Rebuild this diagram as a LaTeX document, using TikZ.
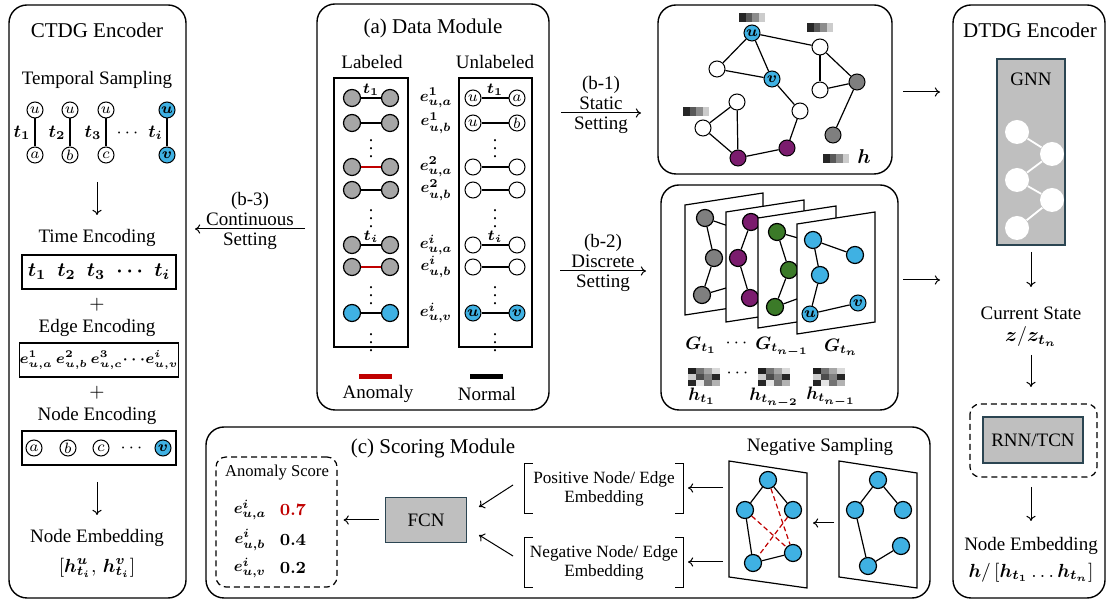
\RequirePackage{fix-cm}
\documentclass[tikz,border=0pt]{standalone}
\usepackage{fontspec}
\setmainfont{Liberation Serif}
\usepackage{amsmath}
\usepackage{bm}
\usepackage{tikz}
\usetikzlibrary{arrows.meta}
\usetikzlibrary{calc}
\usetikzlibrary{positioning}

\definecolor{nodeblue}{HTML}{3FB1E3}
\definecolor{nodegray}{HTML}{7F7F7F}
\definecolor{lgray}{HTML}{A6A6A6}
\definecolor{nodepurple}{HTML}{7B1C6E}
\definecolor{nodegreen}{HTML}{3B7A28}
\definecolor{anomred}{HTML}{C00000}
\definecolor{boxgray}{HTML}{BFBFBF}
\definecolor{boxedge}{HTML}{2B4552}

\tikzset{panel/.style={draw, line width=0.7pt, rounded corners=9pt}}
\tikzset{title/.style={font=\fontsize{10.5}{12}\selectfont}}
\tikzset{head/.style={font=\fontsize{9.5}{10}\selectfont, align=center}}
\tikzset{note/.style={font=\fontsize{8.3}{9.5}\selectfont, align=center}}
\tikzset{tlab/.style={font=\fontsize{9}{9}\selectfont, inner sep=1pt}}
\tikzset{elab/.style={font=\fontsize{8}{9}\selectfont, inner sep=0pt}}
\tikzset{arrow/.style={-{To[length=2.6pt,width=4.6pt]}, line width=0.5pt}}
\tikzset{link/.style={line width=0.6pt}}
\tikzset{vtx/.style={circle, draw, line width=0.5pt, fill=white, minimum size=8pt,
    inner sep=0pt, font=\fontsize{7.5}{7.5}\selectfont}}
\tikzset{ball/.style={circle, draw, line width=0.6pt, minimum size=8.5pt, inner sep=0pt}}
\tikzset{encbox/.style={draw, line width=0.6pt, minimum width=77pt, minimum height=17pt, inner sep=0pt}}
\tikzset{procbox/.style={draw=boxedge, fill=boxgray, line width=0.7pt}}

% feature vector: four shaded cells, top left corner at (#1,#2)
\newcommand{\featbar}[2]{%
  \foreach \g [count=\k from 0] in {85,65,45,20}{
    \fill[black!\g] (#1+\k*6.5,#2) rectangle ++(6.5,9);
  }}
% 4x3 embedding matrix
\newcommand{\heatmap}[2]{%
  \foreach \g [count=\k from 0] in {88,55,35,15,20,70,50,85,85,10,55,30}{
    \pgfmathtruncatemacro{\hcol}{mod(\k,4)}
    \pgfmathtruncatemacro{\hrow}{int(\k/4)}
    \fill[black!\g] (#1+\hcol*8,#2+\hrow*6) rectangle ++(8,6);
  }}
% one snapshot sheet, left edge at #1, top left corner at #2
\newcommand{\snapframe}[2]{%
  \draw[link, fill=white] (#1,#2) -- (#1+78,#2-12) -- (#1+78,#2+98) -- (#1,#2+110) -- cycle;}
\newcommand{\negframe}[1]{%
  \draw[link, fill=white] (#1,461) -- (#1+78,473) -- (#1+78,588) -- (#1,577) -- cycle;}

\begin{document}
\begin{tikzpicture}[x=0.5pt,y=-0.5pt]
\useasboundingbox (0,0) rectangle (1109,603);

%% CTDG encoder
\draw[panel] (9,5) rectangle (186,598);
\node[title] (ctdg) at (97,30) {CTDG Encoder};
\node[head] (tsamp) at (97,80) {Temporal Sampling};
\foreach \x/\w/\idx [count=\k] in {35/a/1,70/b/2,106/c/3}{
  \node[vtx] (su\k) at (\x,110) {$u$};
  \node[vtx] (sw\k) at (\x,155) {$\w$};
  \draw[link] (su\k) -- (sw\k) node[tlab,midway,left=1pt] {$\bm{t_{\idx}}$};
}
\node[vtx,fill=nodeblue] (su4) at (167,110) {$\bm{u}$};
\node[vtx,fill=nodeblue] (sw4) at (167,155) {$\bm{v}$};
\draw[link] (su4) -- (sw4) node[tlab,midway,left=1pt] {$\bm{t_i}$};
\node[tlab] (sdots) at (129,133) {$\cdots$};

\coordinate (ca1) at (97,182);
\coordinate (ca2) at (97,215);
\draw[arrow] (ca1) -- (ca2);

\node[head] (tenc) at (97,238) {Time Encoding};
\node[encbox, font=\fontsize{10}{10}\selectfont] (tbox) at (99,272)
  {$\bm{t_1\;\;t_2\;\;t_3\;\;\cdots\;\;t_i}$};
\node[head] (plus1) at (97,305) {$+$};
\node[head] (eenc) at (97,328) {Edge Encoding};
\node[encbox, font=\fontsize{7.3}{7.3}\selectfont] (ebox) at (99,360)
  {$\bm{e^{1}_{u,a}\,e^{2}_{u,b}\,e^{3}_{u,c}\cdots e^{i}_{u,v}}$};
\node[head] (plus2) at (97,393) {$+$};
\node[head] (nenc) at (97,416) {Node Encoding};
\node[encbox] (nbox) at (99,448) {};
\foreach \x/\w [count=\k] in {34/a,68/b,101/c}
  \node[vtx] (nw\k) at (\x,448) {$\w$};
\node[tlab] (ndots) at (133,448) {$\cdots$};
\node[vtx,fill=nodeblue] (nw4) at (163,448) {$\bm{v}$};

\coordinate (cb1) at (97,482);
\coordinate (cb2) at (97,515);
\draw[arrow] (cb1) -- (cb2);
\node[head] (cemb) at (97,538) {Node Embedding};
\node[head, font=\fontsize{9.5}{10}\selectfont] (cvec) at (97,568)
  {$[\bm{h^{u}_{t_i}},\,\bm{h^{v}_{t_i}}]$};

%% (b-3)
\coordinate (b3s) at (305,229);
\coordinate (b3e) at (195,229);
\draw[arrow] (b3s) -- (b3e)
  node[head,midway,above=0.5pt,inner sep=1pt] {(b-3)\\Continuous}
  node[head,midway,below=0.5pt,inner sep=1pt] {Setting};

%% data module
\draw[panel] (317,4) rectangle (549,410);
\node[title] (dmod) at (433,28) {(a) Data Module};
\node[head] (lab) at (372,62) {Labeled};
\node[head] (ulab) at (495,62) {Unlabeled};
\draw[link] (334,78) rectangle (408,347);
\draw[link] (459,78) rectangle (532,347);

\foreach \y/\c/\f [count=\k] in {98/black/lgray,123/black/lgray,167/anomred/lgray,190/black/lgray,
    245/black/lgray,267/anomred/lgray,313/black/nodeblue}{
  \node[ball, fill=\f] (la\k) at (352,\y) {};
  \node[ball, fill=\f] (lb\k) at (390,\y) {};
  \draw[link, draw=\c] (la\k) -- (lb\k);
}
\path (la1) -- (lb1) node[elab,midway,above=0.8pt,font=\fontsize{7.5}{7.5}\selectfont] (lt1) {$\bm{t_1}$};
\path (la5) -- (lb5) node[elab,midway,above=0.8pt,font=\fontsize{7.5}{7.5}\selectfont] (lt5) {$\bm{t_i}$};

\foreach \y/\s/\w [count=\k] in {98/1/a,123/1/b,167/2/a,190/2/b,245/i/a,267/i/b,313/i/v}
  \node[elab] (el\k) at (436,\y) {$\bm{e^{\s}_{u,\w}}$};

\node[vtx] (ua1) at (473,98) {$u$};
\node[vtx] (ub1) at (517,98) {$a$};
\node[vtx] (ua2) at (473,123) {$u$};
\node[vtx] (ub2) at (517,123) {$b$};
\foreach \y [count=\k from 3] in {167,190,245,267}{
  \node[vtx] (ua\k) at (473,\y) {};
  \node[vtx] (ub\k) at (517,\y) {};
}
\node[vtx,fill=nodeblue] (ua7) at (473,313) {$\bm{u}$};
\node[vtx,fill=nodeblue] (ub7) at (517,313) {$\bm{v}$};
\foreach \k in {1,...,7}
  \draw[link] (ua\k) -- (ub\k);
\path (ua1) -- (ub1) node[elab,midway,above=0.8pt,font=\fontsize{7.5}{7.5}\selectfont] (ut1) {$\bm{t_1}$};
\path (ua5) -- (ub5) node[elab,midway,above=0.8pt,font=\fontsize{7.5}{7.5}\selectfont] (ut5) {$\bm{t_i}$};

\foreach \y [count=\k] in {143,213,290,337}{
  \node[tlab] (ldots\k) at (371,\y) {$\vdots$};
  \node[tlab] (udots\k) at (495,\y) {$\vdots$};
}

\node[fill=anomred, minimum width=16.5pt, minimum height=2.5pt, inner sep=0pt] (redbar) at (375,377) {};
\node[fill=black, minimum width=16.5pt, minimum height=2.5pt, inner sep=0pt] (blackbar) at (486,377) {};
\node[head] (anom) at (378,394) {Anomaly};
\node[head] (norm) at (487,394) {Normal};

%% (b-1) and (b-2)
\coordinate (b1s) at (561,113);
\coordinate (b1e) at (641,113);
\draw[arrow] (b1s) -- (b1e)
  node[head,midway,above=0.5pt,inner sep=1pt] {(b-1)\\Static}
  node[head,midway,below=0.5pt,inner sep=1pt] {Setting};
\coordinate (b2s) at (560,271);
\coordinate (b2e) at (646,271);
\draw[arrow] (b2s) -- (b2e)
  node[head,midway,above=0.5pt,inner sep=1pt] {(b-2)\\Discrete}
  node[head,midway,below=0.5pt,inner sep=1pt] {Setting};

%% static graph
\draw[panel] (658,5) rectangle (892,174);
\featbar{739}{13}
\featbar{807}{23}
\featbar{683}{107}
\featbar{823}{154}
\node[vtx,fill=nodeblue] (gu) at (752,33) {$\bm{u}$};
\node[vtx,fill=nodeblue] (gv) at (772,79) {$\bm{v}$};
\node[vtx] (ga) at (717,69) {};
\node[vtx] (gb) at (820,47) {};
\node[vtx] (gc) at (820,90) {};
\node[vtx,fill=nodegray] (gd) at (857,82) {};
\node[vtx,fill=nodegray] (ge) at (833,135) {};
\node[vtx] (gf) at (800,111) {};
\node[vtx,fill=nodepurple] (gg) at (787,148) {};
\node[vtx,fill=nodepurple] (gh) at (738,158) {};
\node[vtx] (gi) at (737,102) {};
\node[vtx] (gj) at (703,128) {};
\foreach \a/\b in {gu/ga,gu/gv,ga/gv,gu/gb,gb/gc,gb/gd,gc/gd,gd/ge,gv/gf,gf/gg,gg/gh,gh/gi,gh/gj,gi/gj}
  \draw[link] (\a) -- (\b);
\node[tlab, font=\fontsize{10}{10}\selectfont] (hstat) at (864,157) {$\bm{h}$};

\coordinate (d1s) at (903,92);
\coordinate (d1e) at (940,92);
\draw[arrow] (d1s) -- (d1e);

%% discrete snapshots
\draw[panel] (661,185) rectangle (898,410);
\snapframe{685}{205}
\node[ball,fill=nodegray] (k1) at (705,218) {};
\node[ball,fill=nodegray] (k2) at (714,258) {};
\node[ball,fill=nodegray] (k3) at (702,295) {};
\coordinate (k1x) at (740,230);
\coordinate (k3x) at (740,284);
\foreach \a/\b in {k1/k2,k2/k3,k1/k1x,k3/k3x}
  \draw[link] (\a) -- (\b);
\snapframe{726}{212}
\node[ball,fill=nodepurple] (p1) at (751,222) {};
\node[ball,fill=nodepurple] (p2) at (738,258) {};
\node[ball,fill=nodepurple] (p3) at (750,298) {};
\coordinate (p1x) at (770,232);
\foreach \a/\b in {p1/p2,p2/p3,p1/p1x}
  \draw[link] (\a) -- (\b);
\snapframe{758}{218}
\node[ball,fill=nodegreen] (r1) at (777,232) {};
\node[ball,fill=nodegreen] (r2) at (789,270) {};
\node[ball,fill=nodegreen] (r3) at (775,307) {};
\coordinate (r1x) at (805,240);
\coordinate (r3x) at (805,296);
\foreach \a/\b in {r1/r2,r2/r3,r1/r1x,r3/r3x}
  \draw[link] (\a) -- (\b);
\snapframe{797}{224}
\node[ball,fill=nodeblue] (n1) at (813,240) {};
\node[ball,fill=nodeblue] (n2) at (855,255) {};
\node[ball,fill=nodeblue] (n3) at (820,275) {};
\node[vtx,fill=nodeblue] (nu) at (810,314) {$\bm{u}$};
\node[vtx,fill=nodeblue] (nv) at (858,303) {$\bm{v}$};
\foreach \a/\b in {n1/n2,n1/n3,n3/nu,nu/nv}
  \draw[link] (\a) -- (\b);

\node[tlab] (gt1) at (701,345) {$\bm{G_{t_1}}$};
\node[tlab] (gdots) at (738,343) {$\cdots$};
\node[tlab] (gtn1) at (782,347) {$\bm{G_{t_{n-1}}}$};
\node[tlab] (gtn) at (841,347) {$\bm{G_{t_n}}$};
\heatmap{688}{368}
\heatmap{758}{368}
\heatmap{813}{368}
\node[tlab] (hdots) at (739,373) {$\cdots$};
\node[tlab] (ht1) at (702,396) {$\bm{h_{t_1}}$};
\node[tlab] (htn2) at (774,398) {$\bm{h_{t_{n-2}}}$};
\node[tlab] (htn1) at (831,397) {$\bm{h_{t_{n-1}}}$};

\coordinate (d2s) at (903,280);
\coordinate (d2e) at (940,280);
\draw[arrow] (d2s) -- (d2e);

%% DTDG encoder
\draw[panel] (953,5) rectangle (1105,598);
\node[title] (dtdg) at (1030,30) {DTDG Encoder};
\node[procbox, minimum width=34pt, minimum height=93pt] (gnn) at (1031,152) {};
\node[head, below=4pt of gnn.north] (gnnlab) {GNN};
\foreach \x/\y [count=\k] in {1017/132,1052/154,1017/180,1052/200,1017/228}
  \node[circle, fill=white, minimum size=12pt, inner sep=0pt] (gn\k) at (\x,\y) {};
\foreach \k [evaluate=\k as \j using int(\k+1)] in {1,...,4}
  \draw[white, line width=0.9pt] (gn\k) -- (gn\j);

\coordinate (e1s) at (1031,252);
\coordinate (e1e) at (1031,287);
\draw[arrow] (e1s) -- (e1e);
\node[head] (cstate) at (1031,313) {Current State};
\node[tlab, font=\fontsize{10}{10}\selectfont] (zlab) at (1031,337) {$\bm{z}/\bm{z_{t_n}}$};
\coordinate (e2s) at (1031,355);
\coordinate (e2e) at (1031,387);
\draw[arrow] (e2s) -- (e2e);
\draw[link, dash pattern=on 3pt off 2pt, rounded corners=5pt] (970,404) rectangle (1097,477);
\node[procbox, minimum width=50pt, minimum height=23pt, font=\fontsize{9.5}{10}\selectfont] (rnn) at (1033,440) {RNN/TCN};
\coordinate (e3s) at (1031,487);
\coordinate (e3e) at (1031,521);
\draw[arrow] (e3s) -- (e3e);
\node[head] (demb) at (1031,546) {Node Embedding};
\node[tlab, font=\fontsize{9.5}{10}\selectfont] (dvec) at (1031,573)
  {$\bm{h}/\,[\bm{h_{t_1}}\ldots\bm{h_{t_n}}]$};

%% scoring module
\draw[panel] (206,427) rectangle (930,598);
\node[title] (smod) at (433,448) {(c) Scoring Module};
\node[draw, line width=0.6pt, dash pattern=on 3pt off 2pt, rounded corners=5pt,
  minimum width=60.5pt, minimum height=65pt] (scorebox) at (276.5,522) {};
\node[note] (ascore) at (277,473) {Anomaly Score};
\foreach \y/\w/\v/\c [count=\k] in {510/a/0.7/anomred,540/b/0.4/black,568/v/0.2/black}{
  \node[elab] (se\k) at (250,\y) {$\bm{e^{i}_{u,\w}}$};
  \node[elab, text=\c, font=\fontsize{8.5}{9}\selectfont] (sv\k) at (293,\y) {$\bm{\v}$};
}
\node[procbox, minimum width=40.5pt, minimum height=22.5pt, font=\fontsize{9.5}{10}\selectfont] (fcn) at (426,520) {FCN};
\draw[arrow, shorten <=3pt, shorten >=3pt] (fcn.west) -- (fcn.west -| scorebox.east);

\node[note, minimum width=79pt, minimum height=24.5pt, inner sep=0pt, font=\fontsize{8.6}{9.5}\selectfont]
  (posemb) at (604,488.5) {Positive Node/ Edge\\Embedding};
\node[note, minimum width=79pt, minimum height=24.5pt, inner sep=0pt, font=\fontsize{8.6}{9.5}\selectfont]
  (negemb) at (604,562.5) {Negative Node/ Edge\\Embedding};
\foreach \e in {posemb,negemb}{
  \draw[link] ([xshift=4pt]\e.north west) -- (\e.north west) -- (\e.south west) -- ([xshift=4pt]\e.south west);
  \draw[link] ([xshift=-4pt]\e.north east) -- (\e.north east) -- (\e.south east) -- ([xshift=-4pt]\e.south east);
}
\coordinate (f1s) at (513,485);
\coordinate (f1e) at (479,507);
\coordinate (f2s) at (513,556);
\coordinate (f2e) at (479,535);
\draw[arrow] (f1s) -- (f1e);
\draw[arrow] (f2s) -- (f2e);

\node[head] (negs) at (820,447) {Negative Sampling};
\negframe{729}
\negframe{839}
\foreach \x [count=\m] in {0,110}{
  \node[ball,fill=nodeblue] (s\m a) at (768+\x,480) {};
  \node[ball,fill=nodeblue] (s\m b) at (745+\x,510) {};
  \node[ball,fill=nodeblue] (s\m c) at (793+\x,510) {};
}
\node[ball,fill=nodeblue] (s1d) at (753,563) {};
\node[ball,fill=nodeblue] (s1e) at (793,553) {};
\node[ball,fill=nodeblue] (s2d) at (868,566) {};
\node[ball,fill=nodeblue] (s2e) at (901,546) {};
\foreach \m in {1,2}{
  \draw[link] (s\m a) -- (s\m b);
  \draw[link] (s\m a) -- (s\m c);
  \draw[link] (s\m b) -- (s\m d);
  \draw[link] (s\m d) -- (s\m e);
}
\foreach \a/\b in {s1a/s1e,s1b/s1e,s1c/s1d}
  \draw[anomred, line width=0.6pt, dash pattern=on 2.5pt off 1.5pt] (\a) -- (\b);

\coordinate (g1s) at (723,488);
\coordinate (g1e) at (688,488);
\coordinate (g2s) at (723,562);
\coordinate (g2e) at (688,562);
\coordinate (g3s) at (834,523);
\coordinate (g3e) at (813,523);
\draw[arrow] (g1s) -- (g1e);
\draw[arrow] (g2s) -- (g2e);
\draw[arrow] (g3s) -- (g3e);
\end{tikzpicture}
\end{document}
